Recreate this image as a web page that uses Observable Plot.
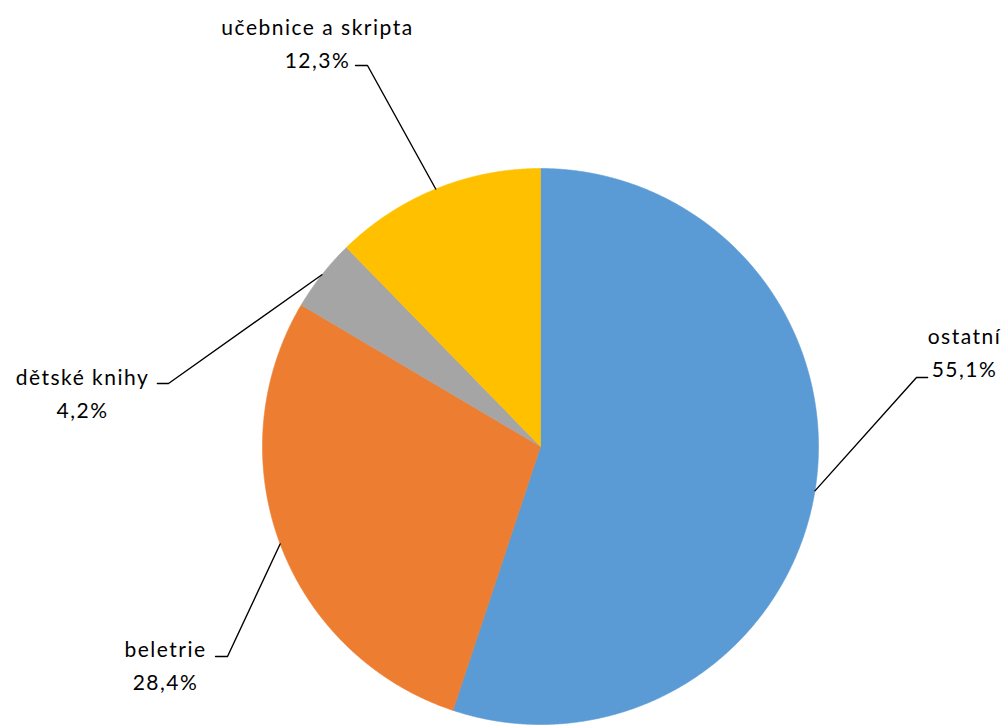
<!DOCTYPE html>
<html>
<head>
<meta charset="utf-8">
<script src="https://cdn.jsdelivr.net/npm/d3@7"></script>
<script src="https://cdn.jsdelivr.net/npm/@observablehq/plot@0.6"></script>
<style>
  html, body { margin: 0; padding: 0; background: #fff; }
  #chart svg { display: block; }
  #chart svg text { letter-spacing: 1.5px; }
</style>
</head>
<body>
<div id="chart"></div>
<script>
// ---- data ----
const categories = ["ostatní", "beletrie", "dětské knihy", "učebnice a skripta"];
const shares = [55.1, 28.4, 4.2, 12.3];
const valueLabels = ["55,1%", "28,4%", "4,2%", "12,3%"];
const colors = ["#5B9BD5", "#ED7D31", "#A5A5A5", "#FFC000"];

// ---- layout (unit coordinates, pie radius = 1) ----
const elbowX = [1.3525, -1.1259, -1.3381, -0.6223];
const elbowY = [0.2482, -0.7554, 0.2266, 1.3705];
const elbowLen = [0.04, -0.043, -0.04, -0.043];
const labelX = [1.5252, -1.3489, -1.6475, -0.8022];
const labelY = [0.3483, -0.7776, 0.2008, 1.4598];

const arcs = d3.pie().sort(null).value(d => d)(shares);

// slice outlines
const slicePts = [];
arcs.forEach((a, i) => {
  const name = categories[i];
  slicePts.push({name, x: 0, y: 0});
  const n = Math.max(8, Math.ceil((a.endAngle - a.startAngle) / 0.005));
  for (let k = 0; k <= n; k++) {
    const t = a.startAngle + (a.endAngle - a.startAngle) * k / n;
    slicePts.push({name, x: Math.sin(t), y: Math.cos(t)});
  }
  slicePts.push({name, x: 0, y: 0});
});

// leader lines
const leaderPts = [];
arcs.forEach((a, i) => {
  const m = (a.startAngle + a.endAngle) / 2;
  const name = categories[i];
  leaderPts.push({name, x: Math.sin(m), y: Math.cos(m)});
  leaderPts.push({name, x: elbowX[i], y: elbowY[i]});
  leaderPts.push({name, x: elbowX[i] + elbowLen[i], y: elbowY[i]});
});

const labels = categories.map((c, i) => ({
  name: c, text: c + "\n" + valueLabels[i], x: labelX[i], y: labelY[i]
}));

const cx = 540, cy = 446, r = 278;

const chart = Plot.plot({
  width: 1007,
  height: 726,
  margin: 0,
  style: {fontFamily: "Lato, 'Noto Sans', sans-serif", background: "#fff"},
  x: {domain: [-1, 1], range: [cx - r, cx + r], axis: null},
  y: {domain: [-1, 1], range: [cy + r, cy - r], axis: null},
  color: {domain: categories, range: colors},
  marks: [
    Plot.line(slicePts, {x: "x", y: "y", z: "name", fill: "name", stroke: "name", strokeWidth: 0.6, curve: "linear"}),
    Plot.line(leaderPts, {x: "x", y: "y", z: "name", stroke: "#000", strokeWidth: 1.4}),
    Plot.text(labels, {x: "x", y: "y", text: "text", fontSize: 21, lineHeight: 1.57, fill: "#000", textAnchor: "middle", fontWeight: 400})
  ]
});
document.getElementById("chart").appendChild(chart);
</script>
</body>
</html>
